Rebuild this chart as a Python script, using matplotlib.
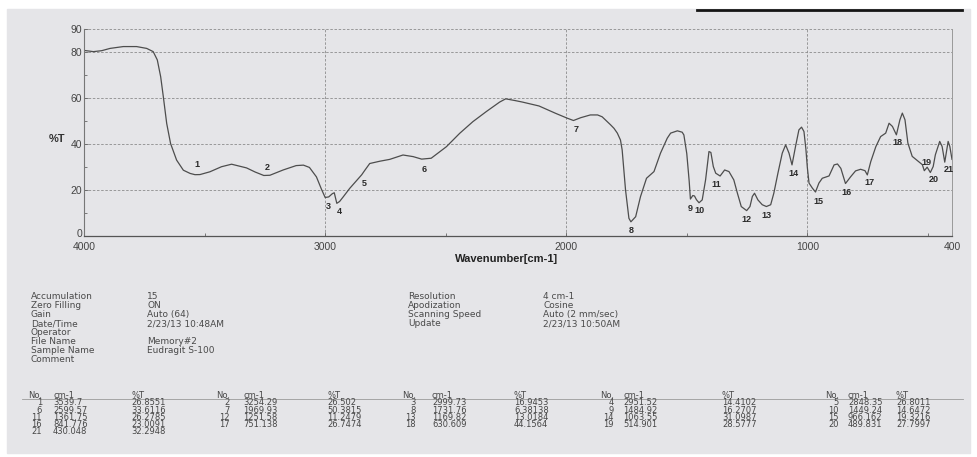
import matplotlib.pyplot as plt
from matplotlib.lines import Line2D
from matplotlib.patches import Rectangle
from matplotlib.transforms import offset_copy

W, H = 977, 457

# spectrum (wavenumber cm-1, %T)
wavenumber = [
    3998, 3961, 3927, 3892, 3837, 3782, 3740, 3713, 3696, 3682, 3671, 3657,
    3641, 3616, 3588, 3560, 3539.7, 3519, 3478, 3430, 3388, 3354, 3326, 3290,
    3254.29, 3229, 3174, 3120, 3090, 3065, 3036, 3015, 2999.73, 2985, 2970,
    2962, 2951.52, 2940, 2925, 2898, 2870, 2848.35, 2835, 2815, 2773, 2732,
    2677, 2635, 2599.57, 2560, 2497, 2442, 2387, 2331, 2276, 2251, 2210, 2182,
    2113, 2044, 1996, 1969.93, 1940, 1900, 1870, 1851, 1816, 1802, 1788, 1775,
    1768, 1754, 1740, 1731.76, 1712, 1692, 1667, 1636, 1609, 1581, 1567, 1539,
    1519, 1512, 1500, 1490, 1484.92, 1475, 1468, 1460, 1449.24, 1436, 1422,
    1408, 1400, 1390, 1380, 1361.75, 1343, 1325, 1305, 1290, 1274, 1251.58,
    1238, 1228, 1219, 1205, 1187, 1169.82, 1152, 1139, 1122, 1104, 1090, 1076,
    1063.55, 1049, 1035, 1024, 1014, 1006, 1000, 993, 979, 966.162, 952, 938,
    910, 889, 875, 861, 841.776, 820, 800, 779, 761, 751.138, 737, 716, 696,
    675, 661, 647, 630.609, 616, 606, 595, 583, 565, 544, 523, 514.901, 503,
    489.831, 478, 469, 451, 441, 430.048, 416, 409, 403, 400,
]
transmittance = [
    80.8, 80.3, 80.7, 81.7, 82.5, 82.5, 81.7, 80.3, 76.7, 69.4, 60.7, 49.1,
    40.4, 33.2, 28.8, 27.4, 26.8551, 26.9, 28.1, 30.3, 31.4, 30.5, 29.8, 28.0,
    26.502, 26.6, 28.9, 30.8, 31.0, 30.0, 25.9, 20.5, 16.9453, 17.2, 18.6,
    19.0, 14.4102, 15.2, 17.2, 20.9, 24.2, 26.8011, 28.8, 31.7, 32.7, 33.5,
    35.4, 34.7, 33.6116, 34.0, 39.0, 44.8, 49.9, 54.3, 58.4, 59.8, 59.0, 58.4,
    56.7, 53.5, 51.4, 50.3815, 51.6, 52.8, 52.8, 52.0, 48.5, 47.0, 44.9, 41.9,
    37.6, 20.2, 7.9, 6.38138, 8.6, 17.3, 25.3, 28.2, 36.2, 42.7, 44.9, 45.9,
    45.3, 44.1, 36.0, 24.0, 16.2707, 17.8, 17.6, 16.0, 14.6472, 15.9, 24.6,
    36.9, 36.5, 30.4, 27.5, 26.2785, 28.9, 28.2, 24.6, 18.8, 13.0, 11.2479,
    13.0, 17.4, 18.8, 15.9, 13.8, 13.0184, 13.8, 18.8, 27.5, 36.2, 39.8, 36.2,
    31.0987, 39.1, 46.3, 47.5, 45.6, 38.0, 30.0, 23.2, 21.0, 19.3216, 23.2, 25.3,
    26.3, 31.1, 31.5, 29.6, 23.0091, 26.0, 28.5, 29.2, 28.6, 26.7474, 32.5, 39.0, 43.4,
    44.9, 49.2, 47.8, 44.1564, 50.7, 53.6, 50.7, 40.6, 34.8, 33.0, 31.2, 28.5777, 30.1,
    27.7997, 30.4, 35.5, 41.3, 39.1, 32.2948, 41.3, 39.1, 35.5, 33.5,
]

# peak table
peak_no = list(range(1, 22))
peak_cm = [3539.7, 3254.29, 2999.73, 2951.52, 2848.35, 2599.57, 1969.93,
           1731.76, 1484.92, 1449.24, 1361.75, 1251.58, 1169.82, 1063.55,
           966.162, 841.776, 751.138, 630.609, 514.901, 489.831, 430.048]
peak_t = [26.8551, 26.502, 16.9453, 14.4102, 26.8011, 33.6116, 50.3815,
          6.38138, 16.2707, 14.6472, 26.2785, 11.2479, 13.0184, 31.0987,
          19.3216, 23.0091, 26.7474, 44.1564, 28.5777, 27.7997, 32.2948]

# label offsets from the peak, in pixels (right, up)
label_dx = [2, 3, 3, 3, 3, 2.5, 3, 0, 0, 0, -4, 0, 0, 1, 3, 1, 2, 1, 2, 3, 4]
label_dy = [10, 8, -9, -8, -9, -10, -9, -9, -9, -8, -8, -9, -9, -9, -9, -9,
            -8, -8, 8.5, -7.5, -7.5]

info_keys = ["Accumulation", "Zero Filling", "Gain", "Date/Time", "Operator",
             "File Name", "Sample Name", "Comment"]
info_vals = ["15", "ON", "Auto (64)", "2/23/13 10:48AM", "", "Memory#2",
             "Eudragit S-100", ""]
info2_keys = ["Resolution", "Apodization", "Scanning Speed", "Update"]
info2_vals = ["4 cm-1", "Cosine", "Auto (2 mm/sec)", "2/23/13 10:50AM"]

plt.rcParams["font.family"] = ["Liberation Sans", "DejaVu Sans"]


def fx(px):
    return px / W


def fy(py):
    return 1 - py / H


fig = plt.figure(figsize=(W / 100, H / 100), dpi=100, facecolor="white")

# scanned paper
fig.patches.append(Rectangle((fx(7), fy(453)), fx(963), 444 / H,
                             transform=fig.transFigure, color="#e5e5e8",
                             zorder=-10))
fig.add_artist(Line2D([fx(697), fx(962)], [fy(10), fy(10)], color="#151515",
                      lw=2.0, transform=fig.transFigure))

ax = fig.add_axes([fx(84), fy(236.5), (952 - 84) / W, (236.5 - 29.3) / H])
ax.set_facecolor("none")
ax.plot(wavenumber, transmittance, color="#4d4d4d", lw=0.9)
ax.set_xlim(4000, 400)
ax.set_ylim(0, 90)

ax.set_xticks([4000, 3000, 2000, 1000, 400])
ax.set_xticks([3500, 2500, 1500, 500], minor=True)
ax.set_yticks([0, 20, 40, 60, 80, 90])
ax.set_yticks([10, 30, 50, 70], minor=True)
ax.tick_params(axis="both", which="both", direction="in", colors="#666",
               labelcolor="#444", labelsize=7.5)
ax.tick_params(axis="both", which="major", length=3, width=0.6)
ax.tick_params(axis="both", which="minor", length=2.5, width=0.6)
ax.tick_params(axis="x", pad=4)
ax.tick_params(axis="y", pad=1.5)
ax.grid(True, which="major", color="#8c8c8c", lw=0.6, ls=(0, (3, 2)))

# the "0" label sits just above "4000" on the scan
zero_lbl = ax.get_yticklabels()[0]
zero_lbl.set_transform(offset_copy(zero_lbl.get_transform(), fig=fig,
                                   x=0, y=2.5, units="points"))

ax.spines["top"].set_visible(False)
ax.spines["left"].set_color("#777")
ax.spines["left"].set_linewidth(0.8)
ax.spines["bottom"].set_color("#555")
ax.spines["bottom"].set_linewidth(0.9)
ax.spines["right"].set_color("#999")
ax.spines["right"].set_linewidth(0.7)

for n, cm, t, dx, dy in zip(peak_no, peak_cm, peak_t, label_dx, label_dy):
    ax.annotate(str(n), (cm, t), xytext=(dx * 0.72, dy * 0.72),
                textcoords="offset points", ha="center", va="center",
                fontsize=6.5, fontweight="bold", color="#2a2a2a")

fig.text(fx(57), fy(138.5), "%T", fontsize=8, fontweight="bold",
         color="#333", ha="center", va="center")
fig.text(fx(507), fy(259), "Wavenumber[cm-1]", fontsize=8, fontweight="bold",
         color="#222", ha="center", va="center")

# measurement info, one text per column
ikw = dict(fontsize=6.5, color="#4a4a4a", va="top", family="DejaVu Sans",
           linespacing=0.99)
fig.text(fx(31), fy(292.4), "\n".join(info_keys), **ikw)
fig.text(fx(147), fy(292.4), "\n".join(info_vals), **ikw)
fig.text(fx(408), fy(292.4), "\n".join(info2_keys), **ikw)
fig.text(fx(543), fy(292.4), "\n".join(info2_vals), **ikw)

# peak table, five groups of No. / cm-1 / %T columns
grp_num = [42, 230, 416, 614, 839]
grp_cm = [53, 243, 432, 623, 848]
grp_t = [131, 327, 514, 722, 896]
tkw = dict(fontsize=6, color="#474747", va="top", family="DejaVu Sans",
           linespacing=0.74)
for g in range(5):
    idx = list(range(g, len(peak_no), 5))
    nos = ["No."] + [str(peak_no[i]) for i in idx]
    cms = ["cm-1"] + ["%.6g" % peak_cm[i] for i in idx]
    ts = ["%T"] + ["%.6g" % peak_t[i] for i in idx]
    fig.text(fx(grp_num[g]), fy(391.2), "\n".join(nos), ha="right",
             multialignment="right", **tkw)
    fig.text(fx(grp_cm[g]), fy(391.2), "\n".join(cms), **tkw)
    fig.text(fx(grp_t[g]), fy(391.2), "\n".join(ts), **tkw)
fig.add_artist(Line2D([fx(22), fx(963)], [fy(398.5), fy(398.5)],
                      color="#9a9a9a", lw=0.6, transform=fig.transFigure))

fig.savefig("out.png", dpi=100)
